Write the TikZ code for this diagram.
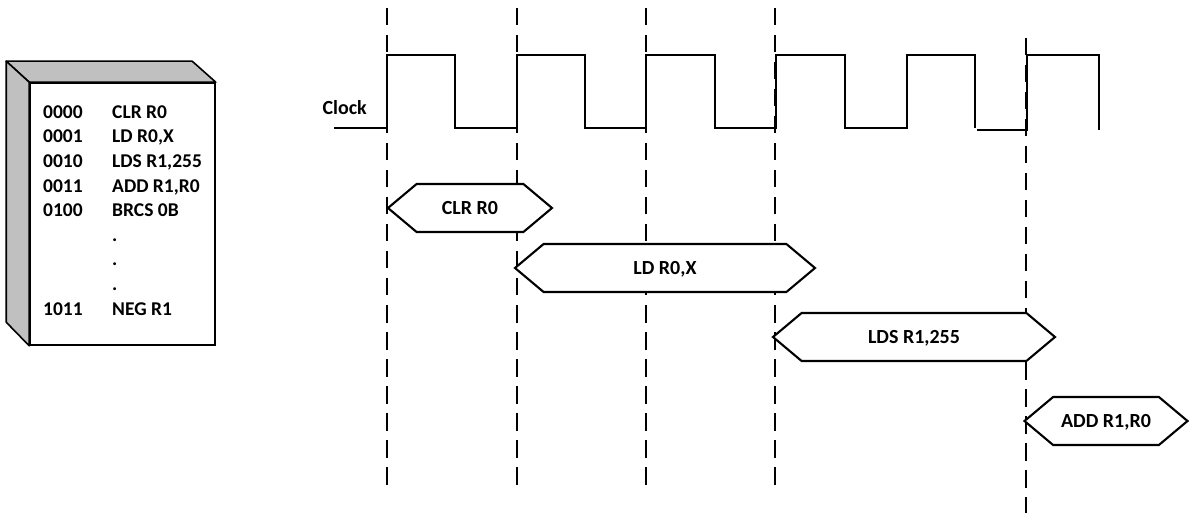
\documentclass[tikz,border=0pt]{standalone}
\usepackage{fontspec}
\setmainfont{Carlito}
\usepackage{tikz}
\usetikzlibrary{shapes.symbols, positioning}
\definecolor{sidegray}{RGB}{192,192,192}
\tikzstyle{instr} = [signal, signal to=west and east, signal pointer angle=80, draw=black, fill=white, line width=2.1pt, minimum height=48pt, inner sep=0pt, text height=13pt, text depth=0pt, font=\fontsize{20}{24}\selectfont\bfseries]
\tikzstyle{memline} = [anchor=west, inner sep=0pt, text height=12.5pt, text depth=0pt, font=\fontsize{19.5}{24}\selectfont\bfseries]
\tikzstyle{edge} = [line width=1.6pt, dash pattern=on 17.5pt off 9.5pt]
\tikzstyle{wave} = [line width=2.8pt, line join=miter]
\tikzstyle{face} = [fill=sidegray, draw=black, line width=1.6pt, line join=round]

\begin{document}
\begin{tikzpicture}[x=1pt, y=-1pt]
        \useasboundingbox (0,0) rectangle (1192,513);

        % program memory
        \node[draw=black, line width=1.6pt, minimum width=185pt, minimum height=262pt, inner sep=0pt] (mem) at (122.5,214) {};
        \draw[face] (mem.north west) -- ++(-23,-21) -- ++(186,0) -- (mem.north east) -- cycle;
        \draw[face] (mem.north west) -- ++(-23,-21) -- ++(0,261) -- (mem.south west) -- cycle;
        \foreach \a/\op [count=\i from 0] in {0000/{CLR R0}, 0001/{LD R0,X}, 0010/{LDS R1,255}, 0011/{ADD R1,R0}, 0100/{BRCS 0B}, /., /., /., 1011/{NEG R1}} {
            \node[memline] (addr\i) at (43,{112+24.6*\i}) {\a};
            \node[memline] (op\i) at (112,{112+24.6*\i}) {\op};
        }

        % clock edges
        \foreach \x in {387,517,646,775}
            \draw[edge] (\x,8) -- (\x,487);
        \draw[edge] (1026,38) -- (1026,513);

        % clock
        \node[memline, anchor=east, font=\fontsize{20}{24}\selectfont\bfseries] (clk) at (367,108) {Clock};
        \draw[wave] (334,128) -- (387,128) -- (387,55) -- (455,55) -- (455,128)
            -- (517,128) -- (517,55) -- (585,55) -- (585,128)
            -- (646,128) -- (646,55) -- (715,55) -- (715,128)
            -- (776,128) -- (776,55) -- (845,55) -- (845,128)
            -- (907,128) -- (907,55) -- (975,55) -- (975,128);
        \draw[wave] (977,130) -- (1027,130) -- (1027,55) -- (1099,55) -- (1099,130);

        % instructions
        \node[instr, minimum width=164pt] (clr) at (470,208) {CLR R0};
        \node[instr, minimum width=300pt] (ld) at (665,268) {LD R0,X};
        \node[instr, minimum width=282pt] (lds) at (914,337) {LDS R1,255};
        \node[instr, minimum width=163pt] (add) at (1106,421) {ADD R1,R0};
    \end{tikzpicture}
\end{document}
